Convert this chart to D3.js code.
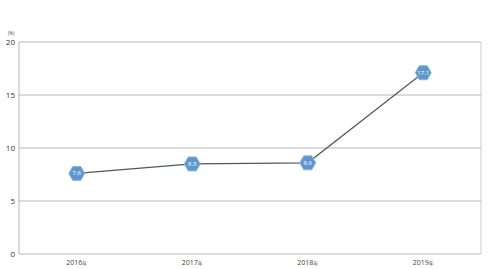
<!DOCTYPE html>
<html>
<head>
<meta charset="utf-8">
<script src="https://cdn.jsdelivr.net/npm/d3@7"></script>
<style>
  body { margin: 0; background: #fff; }
  text { font-family: "Open Sans", "Noto Sans CJK JP", sans-serif; }
</style>
</head>
<body>
<div id="chart"></div>
<script>
// chart data
const years = ["2016", "2017", "2018", "2019"];
const values = [7.6, 8.5, 8.6, 17.1];
const yTicks = [0, 5, 10, 15, 20];

const W = 490, H = 269;
const margin = { top: 42, right: 9, bottom: 15, left: 19 };
const width = W - margin.left - margin.right;
const height = H - margin.top - margin.bottom;

const svg = d3.select("#chart").append("svg")
  .attr("width", W).attr("height", H)
  .append("g")
  .attr("transform", `translate(${margin.left},${margin.top})`);

const x = d3.scaleBand().domain(years).range([0, width]);
const y = d3.scaleLinear().domain([0, 20]).range([height, 0]);

// gridlines
svg.selectAll(".grid")
  .data(yTicks)
  .enter().append("line")
  .attr("x1", 0).attr("x2", width)
  .attr("y1", d => y(d)).attr("y2", d => y(d))
  .attr("stroke", "#b4b8ba").attr("stroke-width", 1);

// frame sides
svg.append("line").attr("x1", 0).attr("x2", 0).attr("y1", 0).attr("y2", height)
  .attr("stroke", "#b4b8ba");
svg.append("line").attr("x1", width).attr("x2", width).attr("y1", 0).attr("y2", height)
  .attr("stroke", "#c8cbcd");

// y labels
svg.selectAll(".ylab")
  .data(yTicks)
  .enter().append("text")
  .attr("x", -4).attr("y", d => y(d) + 3)
  .attr("text-anchor", "end")
  .attr("font-size", 8)
  .attr("fill", "#333")
  .text(d => d);

svg.append("text")
  .attr("x", -11).attr("y", -7)
  .attr("font-size", 4.5)
  .attr("fill", "#444")
  .text("(%)");

// x labels
const xl = svg.selectAll(".xlab")
  .data(years)
  .enter().append("text")
  .attr("x", d => x(d) + x.bandwidth() / 2)
  .attr("y", height + 11)
  .attr("text-anchor", "middle")
  .attr("font-size", 7)
  .attr("fill", "#444");
xl.append("tspan").text(d => d);
xl.append("tspan").attr("font-size", 5).text("年");

// line
const line = d3.line()
  .x((d, i) => x(years[i]) + x.bandwidth() / 2)
  .y(d => y(d));

svg.append("path")
  .datum(values)
  .attr("fill", "none")
  .attr("stroke", "#4b5a61")
  .attr("stroke-width", 1.2)
  .attr("d", line);

// hexagon markers
const hw = 8, hh = 7;
const hex = `M${-hw},0 L${-hw / 2},${-hh} L${hw / 2},${-hh} L${hw},0 L${hw / 2},${hh} L${-hw / 2},${hh} Z`;

const pts = svg.selectAll(".pt")
  .data(values)
  .enter().append("g")
  .attr("transform", (d, i) => `translate(${x(years[i]) + x.bandwidth() / 2},${y(d)})`);

pts.append("path")
  .attr("d", hex)
  .attr("fill", "#5f97cc")
  .attr("stroke", "#8fb6dc")
  .attr("stroke-width", 1);

pts.append("text")
  .attr("y", 2)
  .attr("text-anchor", "middle")
  .attr("font-size", 6)
  .attr("fill", "#fff")
  .text(d => d);
</script>
</body>
</html>
